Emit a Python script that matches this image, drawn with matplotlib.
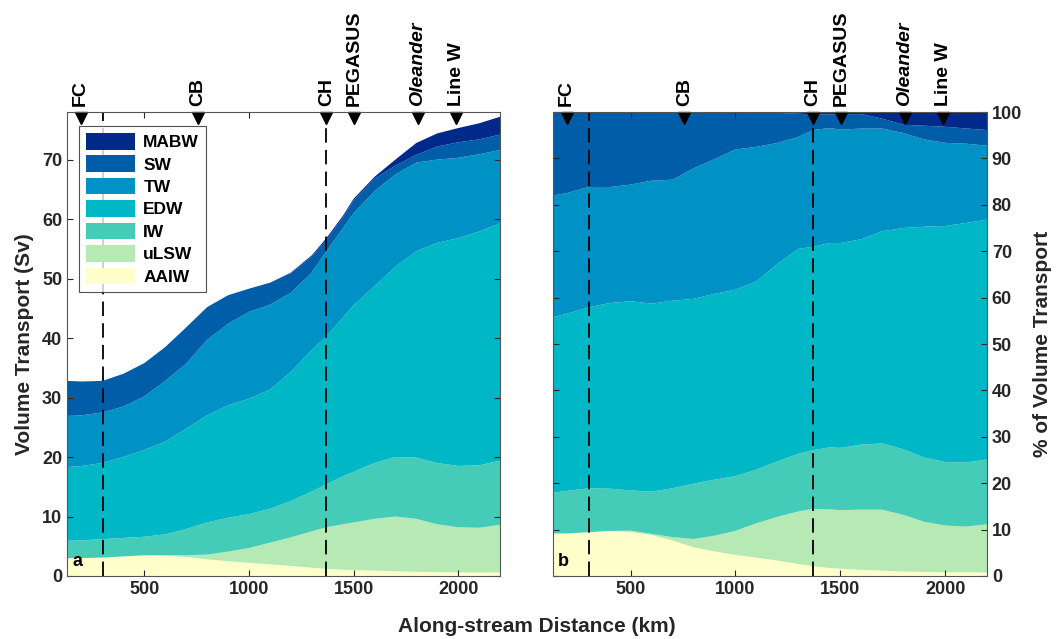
import numpy as np
import matplotlib
matplotlib.use("Agg")
import matplotlib.pyplot as plt
import matplotlib.transforms as mtransforms

plt.rcParams['font.family'] = ['Liberation Sans', 'DejaVu Sans']
plt.rcParams['font.weight'] = 'bold'

# along-stream distance (km) of each transport estimate
distance = [130, 200, 300, 400, 500, 600, 700, 800, 900, 1000, 1100, 1200,
            1300, 1370, 1450, 1500, 1600, 1700, 1800, 1900, 2000, 2100, 2200]

# volume transport per water mass (Sv), listed bottom to top
aaiw = [3.0, 3.0, 3.1, 3.3, 3.4, 3.4, 3.2, 2.8, 2.5, 2.2, 1.95, 1.7,
        1.4, 1.2, 1.05, 1.0, 0.9, 0.8, 0.7, 0.65, 0.6, 0.6, 0.6]
ulsw = [0.0, 0.0, 0.0, 0.0, 0.1, 0.1, 0.3, 0.8, 1.6, 2.5, 3.65, 4.8,
        6.1, 7.0, 7.65, 8.0, 8.7, 9.2, 8.9, 8.05, 7.6, 7.5, 8.0]
iw = [2.9, 3.0, 3.1, 3.1, 3.1, 3.5, 4.4, 5.4, 5.7, 5.7, 5.7, 6.1,
      6.7, 7.2, 8.1, 8.5, 9.4, 10.0, 10.3, 10.3, 10.3, 10.5, 10.8]
edw = [12.4, 12.5, 12.8, 13.6, 14.6, 15.6, 16.9, 18.0, 18.9, 19.4, 20.0, 21.7,
       23.8, 24.9, 26.7, 28.0, 29.7, 32.0, 34.7, 37.0, 38.3, 39.3, 39.9]
tw = [8.6, 8.5, 8.5, 8.5, 9.0, 10.2, 10.9, 12.7, 13.7, 14.6, 14.3, 13.3,
      13.0, 14.3, 15.0, 15.5, 16.0, 15.5, 14.9, 14.0, 13.5, 13.0, 12.3]
sw = [5.9, 5.7, 5.3, 5.5, 5.6, 5.7, 6.1, 5.5, 4.8, 3.9, 3.7, 3.3,
      2.7, 1.9, 1.8, 2.1, 2.1, 1.5, 1.3, 2.2, 2.6, 2.5, 2.6]
mabw = [0.0, 0.0, 0.0, 0.0, 0.0, 0.0, 0.0, 0.0, 0.0, 0.0, 0.0, 0.1,
        0.2, 0.3, 0.3, 0.3, 0.3, 1.0, 2.0, 2.2, 2.4, 2.7, 3.0]

water_masses = ['AAIW', 'uLSW', 'IW', 'EDW', 'TW', 'SW', 'MABW']
colors = ['#FFFFCC', '#B6E9B4', '#45CCB9', '#00B7C5', '#0092C4', '#005DA8', '#00298A']

# section locations marked along the top
section_names = ['FC', 'CB', 'CH', 'PEGASUS', 'Oleander', 'Line W']
section_km = [195, 757, 1370, 1503, 1808, 1992]
dashed_km = [300, 1370]

layers = np.array([aaiw, ulsw, iw, edw, tw, sw, mabw])
x = np.array(distance)
percent = 100 * layers / layers.sum(axis=0)

ink = '#262626'
fig = plt.figure(figsize=(10.56, 6.39), dpi=100)
ax_a = fig.add_axes([67 / 1056, 63 / 639, 433 / 1056, 464 / 639])
ax_b = fig.add_axes([553 / 1056, 63 / 639, 434 / 1056, 464 / 639])


def stack(ax, data):
    base = np.zeros(len(x))
    handles = []
    for name, vals, c in zip(water_masses, data, colors):
        h = ax.fill_between(x, base, base + vals, facecolor=c, edgecolor='none',
                            linewidth=0, label=name)
        handles.append(h)
        base = base + vals
    return handles


def decorate(ax, letter):
    ax.set_xlim(130, 2200)
    ax.set_xticks([500, 1000, 1500, 2000])
    for d in dashed_km:
        ax.axvline(d, color='black', lw=1.3, dashes=(8, 4), zorder=3)
    trans = mtransforms.blended_transform_factory(ax.transData, ax.transAxes)
    ax.plot(section_km, [0.986] * len(section_km), 'v', color='black',
            markersize=9, transform=trans, clip_on=False, zorder=4)
    for name, km in zip(section_names, section_km):
        style = 'italic' if name == 'Oleander' else 'normal'
        ax.text(km, 1.012, name, transform=trans, rotation=90, ha='center',
                va='bottom', fontsize=14, fontweight='bold', fontstyle=style)
    ax.text(0.012, 0.012, letter, transform=ax.transAxes, fontsize=13,
            fontweight='bold', ha='left', va='bottom', zorder=5)
    ax.tick_params(direction='in', top=True, right=True, length=4,
                   labelsize=13, colors=ink, width=0.8)
    for tl in ax.get_xticklabels() + ax.get_yticklabels():
        tl.set_fontweight('bold')
    for s in ax.spines.values():
        s.set_color('#555555')
        s.set_linewidth(0.8)
        s.set_zorder(6)


handles = stack(ax_a, layers)
ax_a.set_ylim(0, 78)
ax_a.set_yticks(range(0, 71, 10))
decorate(ax_a, 'a')
ax_a.set_ylabel('Volume Transport (Sv)', fontsize=15, fontweight='bold',
                color=ink, labelpad=6)

leg = ax_a.legend(handles[::-1], water_masses[::-1], loc='upper left',
                  bbox_to_anchor=(0.028, 0.97), fontsize=12.5, frameon=True,
                  fancybox=False, edgecolor=ink, handlelength=2.8,
                  handleheight=1.1, labelspacing=0.3, borderpad=0.4,
                  handletextpad=0.5, borderaxespad=0)
leg.get_frame().set_linewidth(0.8)
for t in leg.get_texts():
    t.set_fontweight('bold')

stack(ax_b, percent)
ax_b.set_ylim(0, 100)
ax_b.set_yticks(range(0, 101, 10))
decorate(ax_b, 'b')
ax_b.yaxis.tick_right()
ax_b.tick_params(left=True, labelleft=False, labelright=True)
ax_b.yaxis.set_label_position('right')
ax_b.set_ylabel('% of Volume Transport', fontsize=15, fontweight='bold',
                color=ink, labelpad=8)

fig.text(537 / 1056, 1 - 627 / 639, 'Along-stream Distance (km)', ha='center',
         va='center', fontsize=15, fontweight='bold', color=ink)

fig.savefig('out.png', dpi=100)
